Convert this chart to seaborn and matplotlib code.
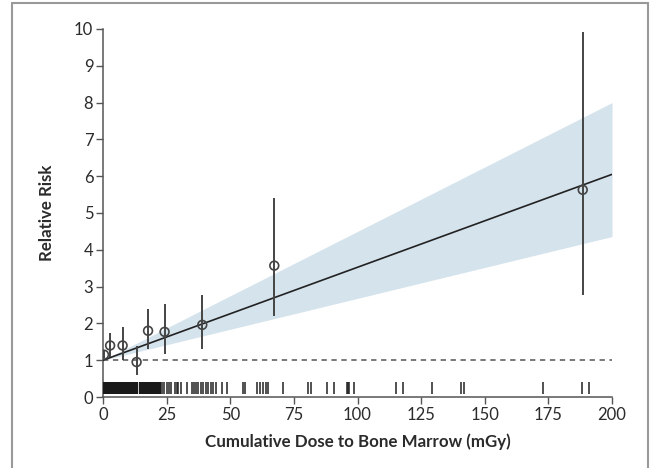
import matplotlib
matplotlib.use("Agg")
import matplotlib.pyplot as plt
import seaborn as sns
import pandas as pd
from matplotlib.lines import Line2D

# ---- data ----
point_dose = [0.4, 2.8, 7.7, 13.2, 17.7, 24.2, 39.0, 67.3, 188.5]
point_rr = [1.15, 1.40, 1.40, 0.95, 1.80, 1.77, 1.96, 3.57, 5.63]
ci_low = [1.05, 1.10, 1.00, 0.60, 1.30, 1.17, 1.31, 2.20, 2.77]
ci_high = [1.25, 1.75, 1.90, 1.39, 2.40, 2.53, 2.76, 5.42, 9.92]

fit_dose = [0, 200]
fit_rr = [1.0, 6.05]
band_lower = [1.0, 4.36]
band_upper = [1.0, 8.0]

rug_dense = [
    0.0, 0.4, 0.8, 1.2, 1.6, 2.0, 2.4, 2.8, 3.2, 3.6, 4.0, 4.4, 4.8, 5.2, 5.6,
    6.0, 6.4, 6.8, 7.2, 7.6, 8.0, 8.4, 8.8, 9.2, 9.6, 10.0, 10.4, 10.8, 11.2,
    11.6, 12.0, 12.4, 12.8, 13.2,
    14.6, 15.0, 15.4, 15.8, 16.2, 16.6, 17.0, 17.4, 17.8, 18.2, 18.6, 19.0,
    19.4, 19.8, 20.2, 20.6, 21.0, 21.4, 21.8, 22.3,
]
rug_sparse = [
    23.0, 24.0, 25.0, 25.8, 26.6, 28.3, 29.0, 29.6, 30.5, 32.9, 34.8, 35.8,
    36.5, 37.5, 38.4, 39.4, 40.5, 41.4, 42.3, 43.4, 44.4, 46.9, 48.6, 55.1,
    55.8, 60.4, 61.7, 63.0, 63.9, 65.0, 70.8, 80.7, 81.6, 88.1, 90.8, 95.7,
    96.2, 96.6, 98.6, 115.1, 118.0, 129.1, 140.5, 141.8, 173.0, 188.1, 191.1,
]

x_ticks = [0, 25, 50, 75, 100, 125, 150, 175, 200]
y_ticks = [0, 1, 2, 3, 4, 5, 6, 7, 8, 9, 10]

# ---- style ----
sns.set_style("ticks")
plt.rcParams["font.family"] = ["Lato", "DejaVu Sans"]

dark = "#2b2b2b"
fig = plt.figure(figsize=(6.54, 4.68), dpi=100)
ax = fig.add_axes([103 / 654, 1 - 397 / 468, (612 - 103) / 654, (397 - 29) / 468])

df_pts = pd.DataFrame({"dose": point_dose, "rr": point_rr})
df_fit = pd.DataFrame({"dose": fit_dose, "rr": fit_rr})

ax.fill_between(fit_dose, band_lower, band_upper, color="#d5e3ec", lw=0, zorder=1)
ax.plot([0, 200], [1, 1], ls=(0, (3.5, 3)), color="#555555", lw=1.1, zorder=2)
sns.lineplot(data=df_fit, x="dose", y="rr", color="#222222", lw=1.2, ax=ax, zorder=3)
ax.vlines(point_dose, ci_low, ci_high, color="#444444", lw=1.4, zorder=4)
sns.scatterplot(data=df_pts, x="dose", y="rr", marker="o", s=40,
                facecolor="none", edgecolor="#444444", linewidth=1.2, ax=ax, zorder=5)
ax.vlines(rug_dense, 0.08, 0.42, color="#1a1a1a", lw=1.6, zorder=3)
ax.vlines(rug_sparse, 0.08, 0.42, color="#222222", lw=1.1, zorder=3)

ax.set_xlim(0, 200)
ax.set_ylim(0, 10)
ax.set_xticks(x_ticks)
ax.set_yticks(y_ticks)
ax.set_xticklabels([str(v) for v in x_ticks])
ax.set_yticklabels([str(v) for v in y_ticks])
sns.despine(ax=ax)
for s in ["left", "bottom"]:
    ax.spines[s].set_color("#555555")
    ax.spines[s].set_linewidth(1.1)
ax.tick_params(axis="both", direction="out", length=5, width=1.0,
               color="#555555", labelcolor=dark, labelsize=12, pad=2)
ax.set_xlabel("Cumulative Dose to Bone Marrow (mGy)", fontsize=12.2,
              fontweight="bold", color=dark, labelpad=8)
ax.set_ylabel("Relative Risk", fontsize=12.2, fontweight="bold", color=dark,
              labelpad=14)

# figure frame (open at bottom)
fc = "#999999"
fig.add_artist(Line2D([12 / 654, 12 / 654], [0, 1 - 3 / 468], color=fc, lw=1.5,
                      transform=fig.transFigure))
fig.add_artist(Line2D([12 / 654, 648 / 654], [1 - 3 / 468, 1 - 3 / 468], color=fc,
                      lw=1.5, transform=fig.transFigure))
fig.add_artist(Line2D([648 / 654, 648 / 654], [0, 1 - 3 / 468], color=fc, lw=1.5,
                      transform=fig.transFigure))

fig.savefig("out.png", dpi=100)
